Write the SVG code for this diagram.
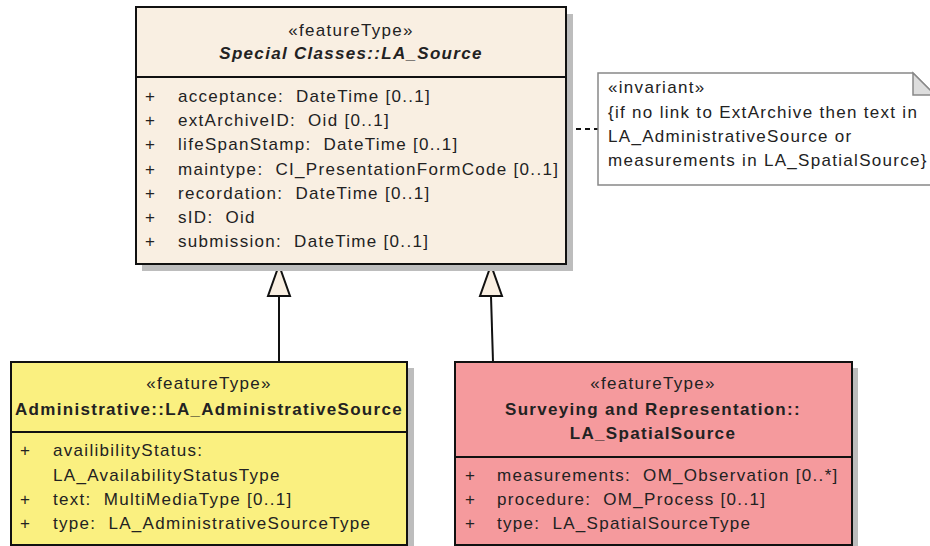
<svg xmlns="http://www.w3.org/2000/svg" width="930" height="546" viewBox="0 0 930 546">
<defs>
<style>
text{font-family:"Liberation Sans",Arial,sans-serif;font-size:17px;fill:#222;letter-spacing:1.3px;white-space:pre}
.c{text-anchor:middle}
.t{font-weight:bold}
.ti{font-weight:bold;font-style:italic}
.box{stroke:#111;stroke-width:2}
.sh{fill:#bdbdbd}
.div{stroke:#111;stroke-width:2}
.conn{stroke:#111;stroke-width:2;fill:none}
.gen{fill:#F9EFE2;stroke:#111;stroke-width:2}
</style>
</defs>
<rect width="930" height="546" fill="#fff"/>
<g id="connectors">
<line class="conn" x1="279" y1="362" x2="279" y2="296"/>
<polygon class="gen" points="279,265 268,296 290,296"/>
<line class="conn" x1="493" y1="362" x2="491" y2="296"/>
<polygon class="gen" points="491,265 480,296 502,296"/>
<line x1="567" y1="129" x2="598" y2="129" stroke="#111" stroke-width="2" stroke-dasharray="5,4"/>
</g>
<g id="la_source">
<rect class="sh" x="142" y="14" width="431" height="257"/>
<rect class="box" x="136" y="7" width="430" height="257" fill="#F9EFE2"/>
<line class="div" x1="136" y1="77" x2="566" y2="77"/>
<text class="c" x="351" y="36">«featureType»</text>
<text class="c ti" x="351" y="59">Special Classes::LA_Source</text>
<text x="145" y="102">+</text><text x="178" y="102">acceptance:  DateTime [0..1]</text>
<text x="145" y="126">+</text><text x="178" y="126">extArchiveID:  Oid [0..1]</text>
<text x="145" y="150">+</text><text x="178" y="150">lifeSpanStamp:  DateTime [0..1]</text>
<text x="145" y="175">+</text><text x="178" y="175">maintype:  CI_PresentationFormCode [0..1]</text>
<text x="145" y="199">+</text><text x="178" y="199">recordation:  DateTime [0..1]</text>
<text x="145" y="223">+</text><text x="178" y="223">sID:  Oid</text>
<text x="145" y="247">+</text><text x="178" y="247">submission:  DateTime [0..1]</text>
</g>
<g id="invariant_note">
<path d="M598,73 H913 L935,95 V185 H598 Z" fill="#fff" stroke="#888" stroke-width="1.5"/>
<path d="M913,73 V95 H935 Z" fill="#ddd" stroke="#888" stroke-width="1.5"/>
<text x="608" y="93">«invariant»</text>
<text x="608" y="118">{if no link to ExtArchive then text in</text>
<text x="608" y="142">LA_AdministrativeSource or</text>
<text x="608" y="166">measurements in LA_SpatialSource}</text>
</g>
<g id="la_administrativesource">
<rect class="sh" x="17" y="368" width="397" height="180"/>
<rect class="box" x="11" y="362" width="396" height="183" fill="#FAF080"/>
<line class="div" x1="11" y1="432" x2="407" y2="432"/>
<text class="c" x="209" y="389">«featureType»</text>
<text class="c t" x="209" y="415">Administrative::LA_AdministrativeSource</text>
<text x="20" y="456">+</text><text x="53" y="456">availibilityStatus:</text>
<text x="53" y="481">LA_AvailabilityStatusType</text>
<text x="20" y="505">+</text><text x="53" y="505">text:  MultiMediaType [0..1]</text>
<text x="20" y="529">+</text><text x="53" y="529">type:  LA_AdministrativeSourceType</text>
</g>
<g id="la_spatialsource">
<rect class="sh" x="461" y="368" width="397" height="180"/>
<rect class="box" x="455" y="362" width="397" height="183" fill="#F59A9D"/>
<line class="div" x1="455" y1="457" x2="852" y2="457"/>
<text class="c" x="653" y="389">«featureType»</text>
<text class="c t" x="653" y="415">Surveying and Representation::</text>
<text class="c t" x="653" y="439">LA_SpatialSource</text>
<text x="465" y="481">+</text><text x="497" y="481">measurements:  OM_Observation [0..*]</text>
<text x="465" y="505">+</text><text x="497" y="505">procedure:  OM_Process [0..1]</text>
<text x="465" y="529">+</text><text x="497" y="529">type:  LA_SpatialSourceType</text>
</g>
</svg>
